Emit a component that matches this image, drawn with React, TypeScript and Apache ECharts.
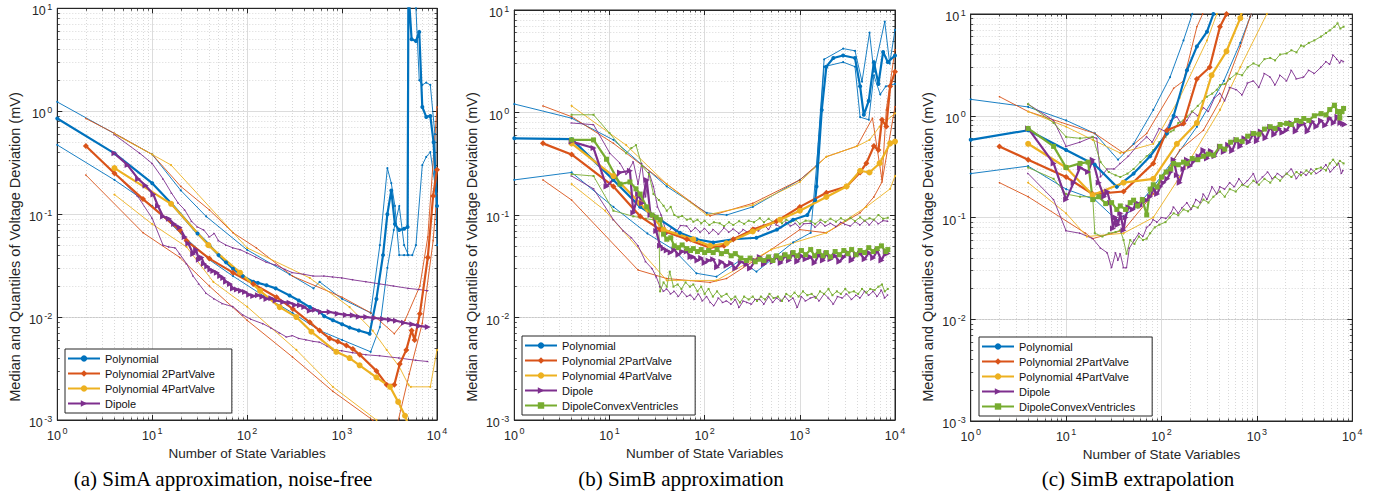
import React, { useEffect, useRef } from "react";
import * as echarts from "echarts";

type P = [number, number][];

// ---------- labels ----------
const METHODS = ["Polynomial", "Polynomial 2PartValve", "Polynomial 4PartValve", "Dipole", "DipoleConvexVentricles"];
const X_NAME = "Number of State Variables";
const Y_NAME = "Median and Quantiles of Voltage Deviation (mV)";
const CAPTIONS = ["(a) SimA approximation, noise-free", "(b) SimB approximation", "(c) SimB extrapolation"];
const X_MINOR = [2, 3, 4, 5, 6, 7, 8, 9, 20, 30, 40, 50, 60, 70, 80, 90, 200, 300, 400, 500, 600, 700, 800, 900, 2000, 3000, 4000, 5000, 6000, 7000, 8000, 9000];
const Y_MINOR = [0.002, 0.003, 0.004, 0.005, 0.006, 0.007, 0.008, 0.009, 0.02, 0.03, 0.04, 0.05, 0.06, 0.07, 0.08, 0.09, 0.2, 0.3, 0.4, 0.5, 0.6, 0.7, 0.8, 0.9, 2, 3, 4, 5, 6, 7, 8, 9];

// ---------- panel (a) ----------
const A_POLY_MED: P = [[1,0.85],[4,0.39],[10,0.2],[16,0.126],[30,0.065],[40,0.05],[50,0.04],[60,0.034],[71,0.0295],[90,0.025],[116,0.022],[130,0.0215],[160,0.0204],[200,0.019],[280,0.0162],[350,0.0145],[457,0.0125],[580,0.0112],[650,0.0102],[800,0.0093],[1000,0.0085],[1200,0.0079],[1500,0.0074],[1950,0.0069],[2300,0.015],[2700,0.04],[3000,0.1],[3300,0.17],[3600,0.08],[4000,0.07],[4500,0.072],[4900,0.075],[5000,15],[5400,5.0],[6000,4.8],[6500,5.9],[7000,1.1],[7700,0.88],[8500,0.9],[9200,0.5],[10000,0.12]];
const A_POLY_HI: P = [[1,1.23],[10,0.38],[20,0.17],[37,0.095],[100,0.045],[280,0.026],[500,0.019],[580,0.022],[1000,0.015],[2000,0.011],[2500,0.05],[3000,0.28],[3300,0.2],[3600,0.12],[4000,0.04],[4500,0.04],[4900,0.04],[5000,15],[6000,10],[6500,2.0],[7000,1.8],[7700,1.9],[8500,1.8],[9500,0.6],[10000,0.05]];
const A_POLY_LO: P = [[1,0.47],[4,0.215],[10,0.12],[20,0.065],[40,0.036],[71,0.025],[150,0.016],[300,0.011],[580,0.0074],[1000,0.006],[2000,0.0046],[2500,0.008],[3000,0.03],[3500,0.07],[4000,0.12],[4500,0.05],[5000,0.04],[5500,0.04],[6000,0.05],[7000,0.3],[7700,0.36],[8500,0.4],[9500,0.2]];
const A_P2_MED: P = [[2,0.46],[4,0.25],[8,0.14],[19.5,0.07],[23,0.055],[40,0.037],[71,0.027],[116,0.021],[204,0.0156],[303,0.012],[457,0.0089],[580,0.0074],[740,0.0062],[900,0.0058],[1110,0.0053],[1300,0.0049],[1540,0.0043],[2300,0.003],[2950,0.0022],[3550,0.0022],[4050,0.0035],[4750,0.0048],[5400,0.0074],[5800,0.006],[6600,0.0108],[8000,0.038],[9100,0.15],[10000,0.27]];
const A_P2_HI: P = [[2,0.85],[4,0.61],[10,0.38],[20,0.186],[40,0.11],[71,0.066],[125,0.047],[300,0.025],[1000,0.0156],[2000,0.011],[3550,0.0069],[4600,0.0093],[6600,0.02],[8000,0.06],[10000,1.1]];
const A_P2_LO: P = [[2,0.24],[8,0.066],[19.5,0.038],[40,0.02],[100,0.0093],[300,0.0041],[800,0.0019],[2100,0.001],[3000,0.0006],[3700,0.0008],[5100,0.0028],[7000,0.0087],[9100,0.055],[10000,0.16]];
const A_P4_MED: P = [[4,0.28],[15.8,0.126],[39,0.05],[84,0.027],[137,0.018],[220,0.0125],[330,0.01],[475,0.0072],[870,0.0046],[1200,0.004],[1530,0.0034],[2300,0.0026],[3200,0.0021],[3900,0.0015],[4600,0.0011],[5200,0.0008]];
const A_P4_HI: P = [[4,0.6],[10,0.38],[15.8,0.3],[100,0.047],[457,0.024],[1200,0.0125],[2100,0.0074],[2950,0.0048],[4000,0.0033],[5000,0.0022],[5300,0.0021],[8500,0.0021],[10000,0.0048]];
const A_P4_LO: P = [[4,0.155],[10,0.08],[23,0.048],[44,0.022],[100,0.0126],[330,0.0048],[800,0.0021],[2300,0.001],[3000,0.0007]];
const A_DIP_MED: P = [[4,0.39],[5.5,0.3],[7.1,0.22],[8.5,0.19],[10.3,0.155],[11.5,0.12],[13,0.095],[15,0.09],[17,0.08],[19.5,0.074],[22,0.06],[24,0.052],[27,0.041],[29,0.045],[31,0.036],[33,0.038],[35,0.033],[38,0.031],[41,0.029],[44,0.028],[48,0.027],[52,0.025],[56,0.024],[60,0.022],[66,0.021],[71,0.019],[78,0.0185],[86,0.018],[95,0.0175],[105,0.0165],[116,0.016],[130,0.0163],[145,0.0158],[160,0.015],[180,0.0152],[200,0.0145],[240,0.014],[280,0.0138],[320,0.0131],[360,0.013],[400,0.0125],[457,0.0115],[520,0.0118],[600,0.0112],[740,0.0112],[900,0.0108],[1100,0.0105],[1300,0.0104],[1500,0.0101],[1800,0.01],[2200,0.0098],[2700,0.0096],[3200,0.0094],[3700,0.0092],[4500,0.0088],[5500,0.0085],[6500,0.0082],[8000,0.008]];
const A_DIP_HI: P = [[4,0.59],[7.4,0.39],[10,0.31],[13,0.22],[16,0.16],[18.8,0.128],[22,0.11],[26,0.085],[30,0.075],[35,0.07],[40,0.06],[45,0.065],[50,0.055],[60,0.05],[71,0.047],[85,0.045],[100,0.042],[125,0.038],[160,0.034],[200,0.032],[250,0.029],[300,0.027],[400,0.026],[500,0.025],[650,0.025],[800,0.0245],[1000,0.024],[1300,0.023],[1800,0.022],[2500,0.021],[3500,0.02],[5000,0.019],[6500,0.0185],[8000,0.018]];
const A_DIP_LO: P = [[4,0.25],[7,0.15],[10,0.091],[13,0.05],[15,0.048],[17.5,0.047],[19.5,0.041],[23,0.033],[27,0.025],[31,0.021],[37,0.017],[45,0.015],[55,0.0135],[71,0.0126],[90,0.0105],[110,0.0095],[147,0.0086],[180,0.0078],[220,0.007],[260,0.0064],[300,0.0066],[350,0.0062],[420,0.006],[500,0.0058],[580,0.0057],[700,0.0052],[800,0.0048],[1000,0.0047],[1300,0.0045],[1800,0.0043],[2500,0.0042],[4000,0.004],[6000,0.0038],[8000,0.0037]];

// ---------- panel (b) ----------
const B_POLY_MED: P = [[1,0.56],[4,0.55],[11,0.22],[21,0.12],[34,0.09],[55,0.067],[82,0.058],[123,0.054],[200,0.058],[350,0.06],[575,0.072],[850,0.09],[1200,0.1],[1450,0.14],[1500,0.19],[1700,1.06],[1900,2.8],[2250,3.4],[2850,3.6],[3800,3.4],[4300,1.8],[4700,0.95],[5300,1.3],[6000,3.1],[6700,1.9],[7500,3.9],[8400,3.1],[10000,3.6]];
const B_POLY_HI: P = [[1,1.21],[4,0.88],[11,0.54],[40,0.19],[105,0.105],[170,0.1],[320,0.12],[1000,0.22],[1500,0.3],[1800,3.3],[2850,4.2],[3800,4.0],[4500,2.0],[5400,6.0],[6000,2.5],[7800,7.7],[8800,3.0],[10000,6.4]];
const B_POLY_LO: P = [[1,0.22],[4,0.26],[11,0.12],[25,0.066],[47,0.046],[82,0.027],[133,0.025],[234,0.036],[350,0.028],[850,0.054],[1300,0.067],[1500,0.3],[1800,2.8],[2850,3.1],[3800,2.8],[4300,0.9],[5300,0.85],[6000,2.3],[7000,1.5],[8000,1.8],[10000,1.9]];
const B_P2_MED: P = [[2,0.5],[4,0.39],[11,0.19],[21,0.097],[34,0.072],[65,0.058],[114,0.048],[160,0.05],[200,0.058],[320,0.072],[570,0.087],[1000,0.12],[1900,0.165],[3100,0.19],[4300,0.26],[5000,0.32],[6000,0.47],[6700,0.43],[7300,0.85],[8100,0.73],[8900,1.8],[10000,2.5]];
const B_P2_HI: P = [[2,1.16],[4,0.91],[11,0.5],[40,0.2],[114,0.098],[320,0.13],[1000,0.22],[1900,0.37],[4000,0.47],[5800,0.88],[7300,0.22],[8100,1.06],[10000,4.1]];
const B_P2_LO: P = [[2,0.22],[4,0.14],[20,0.029],[40,0.024],[114,0.022],[170,0.024],[500,0.046],[1000,0.072],[1900,0.067],[4300,0.105],[6000,0.15],[7300,0.21],[10000,1.14]];
const B_P4_MED: P = [[4,0.5],[11,0.24],[21,0.13],[37,0.072],[76,0.058],[114,0.05],[170,0.053],[320,0.069],[620,0.09],[1000,0.11],[1900,0.15],[3100,0.19],[4300,0.27],[5400,0.26],[6900,0.32],[8900,0.5],[10000,0.52]];
const B_P4_HI: P = [[4,1.16],[15,0.48],[40,0.2],[105,0.1],[320,0.125],[1000,0.21],[1900,0.37],[4000,0.47],[5400,0.54],[6900,0.73],[10000,0.98]];
const B_P4_LO: P = [[4,0.2],[9,0.11],[40,0.023],[133,0.023],[500,0.046],[1900,0.067],[5000,0.12],[8900,0.18],[10000,0.24]];
const B_DIP_MED: P = [[4,0.52],[6.8,0.45],[9.3,0.19],[12.9,0.26],[16.4,0.27],[17.8,0.105],[20,0.16],[22,0.13],[24.6,0.22],[27,0.1],[29,0.1],[31,0.07],[34,0.05],[37,0.047],[40,0.045],[44,0.043],[48,0.046],[53,0.041],[58,0.044],[65,0.044],[71,0.039],[76,0.039],[84,0.036],[92,0.038],[100,0.034],[110,0.036],[123,0.037],[135,0.031],[150,0.035],[170,0.032],[190,0.034],[210,0.03],[240,0.035],[275,0.033],[300,0.03],[340,0.036],[380,0.039],[420,0.033],[470,0.037],[520,0.035],[570,0.039],[630,0.034],[700,0.04],[770,0.036],[850,0.042],[940,0.035],[1040,0.04],[1150,0.037],[1300,0.039],[1430,0.034],[1580,0.041],[1750,0.036],[1900,0.042],[2100,0.037],[2350,0.04],[2600,0.035],[2900,0.039],[3200,0.043],[3500,0.036],[3900,0.041],[4300,0.042],[4800,0.037],[5300,0.043],[5900,0.038],[6500,0.045],[7200,0.036],[8000,0.044],[8400,0.042]];
const B_DIP_HI: P = [[4,0.79],[6.8,0.76],[10.1,0.4],[12.9,0.32],[15,0.25],[17.8,0.33],[20,0.2],[21.8,0.32],[24,0.15],[26,0.26],[29,0.19],[32,0.12],[35,0.1],[40,0.065],[45,0.075],[50,0.068],[56,0.079],[65,0.078],[72,0.069],[80,0.075],[90,0.068],[100,0.074],[112,0.066],[123,0.072],[140,0.065],[160,0.075],[180,0.068],[200,0.073],[230,0.066],[255,0.072],[290,0.067],[330,0.075],[370,0.07],[420,0.08],[470,0.072],[520,0.085],[570,0.08],[640,0.075],[720,0.085],[800,0.078],[900,0.083],[1000,0.075],[1100,0.082],[1300,0.083],[1450,0.076],[1650,0.085],[1850,0.078],[2100,0.083],[2400,0.077],[2700,0.085],[3000,0.081],[3400,0.078],[3800,0.086],[4300,0.08],[4800,0.088],[5400,0.08],[6000,0.09],[6700,0.082],[7500,0.088],[8400,0.087]];
const B_DIP_LO: P = [[4,0.24],[6.8,0.18],[11,0.09],[14,0.07],[17,0.06],[20,0.05],[24,0.035],[28,0.03],[31,0.025],[34,0.02],[37,0.018],[40,0.019],[44,0.017],[48,0.018],[53,0.016],[58,0.018],[65,0.016],[71,0.0166],[78,0.015],[86,0.017],[95,0.0145],[105,0.016],[115,0.014],[125,0.013],[140,0.0155],[155,0.014],[170,0.0145],[190,0.0135],[210,0.015],[230,0.0125],[255,0.0145],[280,0.014],[310,0.0135],[340,0.015],[380,0.015],[420,0.0135],[470,0.016],[520,0.014],[570,0.0155],[630,0.0145],[700,0.016],[770,0.0145],[850,0.0155],[940,0.0125],[1040,0.016],[1150,0.0145],[1300,0.0155],[1450,0.016],[1600,0.0145],[1800,0.017],[2000,0.0155],[2250,0.0135],[2500,0.016],[2800,0.0155],[3100,0.017],[3500,0.015],[3900,0.0165],[4300,0.0155],[4800,0.018],[5300,0.0165],[5900,0.018],[6500,0.016],[7200,0.0185],[7800,0.0155],[8400,0.0166]];
const B_DCV_MED: P = [[4,0.54],[6.8,0.54],[9.3,0.35],[12.9,0.2],[16.4,0.21],[19,0.18],[21,0.16],[24.6,0.12],[28,0.1],[31,0.095],[34,0.09],[37,0.065],[40,0.058],[44,0.06],[48,0.05],[53,0.048],[58,0.051],[65,0.047],[71,0.045],[76,0.047],[84,0.044],[92,0.046],[100,0.043],[110,0.045],[123,0.043],[135,0.046],[150,0.042],[170,0.044],[190,0.04],[210,0.042],[240,0.038],[275,0.036],[300,0.038],[340,0.035],[380,0.037],[420,0.036],[470,0.039],[520,0.036],[570,0.04],[630,0.038],[700,0.041],[770,0.039],[850,0.043],[940,0.04],[1040,0.045],[1150,0.041],[1300,0.046],[1430,0.04],[1580,0.044],[1750,0.04],[1900,0.043],[2100,0.039],[2350,0.044],[2600,0.041],[2900,0.045],[3200,0.042],[3500,0.046],[3900,0.041],[4300,0.045],[4800,0.043],[5300,0.048],[5900,0.044],[6500,0.047],[7200,0.05],[8000,0.044],[8400,0.046]];
const B_DCV_HI: P = [[4,0.95],[6.8,0.95],[10,0.63],[15,0.4],[17,0.45],[19,0.48],[22,0.3],[26,0.25],[29,0.16],[33,0.14],[37,0.123],[40,0.11],[44,0.12],[48,0.1],[53,0.095],[58,0.098],[65,0.09],[71,0.092],[76,0.086],[84,0.09],[92,0.083],[100,0.088],[112,0.08],[125,0.085],[144,0.083],[160,0.078],[180,0.085],[200,0.08],[230,0.087],[260,0.082],[290,0.088],[330,0.085],[380,0.093],[420,0.085],[470,0.092],[520,0.086],[580,0.09],[650,0.083],[720,0.09],[800,0.085],[900,0.09],[1000,0.082],[1150,0.088],[1300,0.087],[1450,0.082],[1650,0.09],[1850,0.085],[2100,0.092],[2400,0.086],[2700,0.093],[3000,0.088],[3400,0.094],[3800,0.087],[4300,0.095],[4800,0.088],[5400,0.093],[6000,0.09],[6700,0.1],[7500,0.092],[8400,0.094]];
const B_DCV_LO: P = [[4,0.25],[6.8,0.24],[11,0.11],[17.8,0.097],[24,0.092],[29,0.09],[33,0.09],[34,0.018],[37,0.022],[40,0.02],[43,0.028],[47,0.02],[52,0.021],[57,0.019],[63,0.022],[70,0.02],[76,0.021],[84,0.018],[92,0.02],[100,0.017],[110,0.019],[122,0.016],[135,0.018],[150,0.016],[170,0.017],[190,0.015],[210,0.016],[235,0.014],[260,0.016],[290,0.015],[320,0.016],[355,0.0145],[390,0.016],[430,0.015],[480,0.017],[530,0.0155],[590,0.016],[650,0.0145],[720,0.017],[800,0.016],[880,0.0175],[970,0.016],[1080,0.018],[1200,0.0165],[1330,0.017],[1470,0.0155],[1630,0.018],[1800,0.017],[2000,0.019],[2200,0.0165],[2450,0.018],[2700,0.017],[3000,0.019],[3300,0.0175],[3700,0.018],[4100,0.017],[4500,0.019],[5000,0.0175],[5500,0.019],[6100,0.0185],[6700,0.02],[7300,0.021],[7800,0.018],[8400,0.019]];

// ---------- panel (c) ----------
const C_POLY_MED: P = [[1,0.58],[4,0.72],[10,0.46],[20,0.33],[34,0.2],[51,0.27],[76,0.4],[114,0.67],[134,1.0],[185,2.8],[235,4.8],[300,6.7],[350,10],[400,14]];
const C_POLY_HI: P = [[1,1.45],[4,1.22],[10,0.9],[20,0.67],[35,0.37],[51,0.53],[82,1.14],[123,2.4],[170,5.5],[210,10],[250,15]];
const C_POLY_LO: P = [[1,0.27],[4,0.32],[10,0.19],[20,0.15],[34,0.094],[55,0.127],[82,0.2],[134,0.37],[235,0.78],[450,2.2],[670,5.2],[850,9.4],[1000,14]];
const C_P2_MED: P = [[2,0.5],[4,0.37],[10,0.25],[19,0.17],[40,0.18],[82,0.34],[114,0.72],[170,0.84],[235,2.3],[320,3.0],[410,7.5],[480,10],[550,14]];
const C_P2_HI: P = [[2,1.54],[4,1.1],[20,0.67],[40,0.43],[70,0.67],[134,1.86],[170,2.2],[235,7.5],[270,10],[300,14]];
const C_P2_LO: P = [[2,0.22],[4,0.16],[16,0.07],[19,0.062],[40,0.075],[82,0.17],[155,0.46],[275,0.72],[410,1.4],[670,4.8],[850,9.4],[1000,14]];
const C_P4_MED: P = [[4,0.53],[10,0.31],[19,0.166],[40,0.22],[82,0.24],[145,0.53],[235,0.85],[335,2.5],[480,4.3],[670,9.1],[750,14]];
const C_P4_HI: P = [[4,1.1],[10,0.78],[19,0.58],[37,0.43],[82,0.53],[155,1.5],[300,5.5],[380,10],[420,14]];
const C_P4_LO: P = [[4,0.22],[10,0.11],[16.5,0.065],[40,0.07],[82,0.1],[155,0.25],[410,1.14],[670,3.0],[1270,10],[1400,14]];
const C_DIP_MED: P = [[4,0.75],[7.4,0.34],[10,0.15],[12,0.22],[14,0.31],[17,0.28],[19,0.37],[22,0.22],[25,0.16],[27,0.18],[29,0.14],[31,0.078],[33,0.1],[35,0.085],[37,0.11],[40,0.075],[42,0.1],[45,0.126],[50,0.12],[55,0.14],[60,0.13],[65,0.15],[70,0.148],[76,0.16],[83,0.19],[90,0.17],[97,0.2],[105,0.22],[115,0.24],[125,0.28],[134,0.37],[145,0.26],[155,0.22],[170,0.3],[185,0.37],[200,0.32],[220,0.36],[245,0.4],[275,0.46],[300,0.38],[330,0.45],[360,0.4],[410,0.5],[450,0.44],[500,0.52],[550,0.45],[610,0.58],[670,0.5],[740,0.6],[820,0.55],[920,0.67],[1000,0.56],[1100,0.7],[1230,0.6],[1380,0.78],[1520,0.65],[1700,0.75],[1850,0.68],[2050,0.72],[2300,0.85],[2550,0.7],[2800,0.8],[3100,0.84],[3400,0.7],[3800,0.88],[4200,0.78],[4700,0.9],[5200,0.8],[5800,0.95],[6400,0.85],[7000,0.98],[7500,0.85],[8000,0.84],[8300,0.82]];
const C_DIP_HI: P = [[4,1.3],[7.4,0.9],[10,0.5],[14,0.55],[19,0.62],[21,0.6],[23,0.25],[27,0.3],[32,0.3],[37,0.34],[45,0.4],[55,0.5],[70,0.62],[80,0.55],[95,0.75],[110,0.7],[125,0.9],[145,0.98],[165,0.8],[185,0.9],[210,1.1],[240,1.0],[275,1.2],[310,1.1],[360,1.5],[410,1.66],[460,1.4],[520,1.9],[610,1.8],[700,1.6],[800,2.1],[920,2.2],[1050,1.9],[1200,2.6],[1380,2.4],[1550,2.0],[1750,2.5],[2050,2.2],[2300,2.8],[2600,2.3],[3100,2.4],[3500,2.8],[4000,2.6],[4700,3.0],[5300,3.4],[5800,3.2],[6300,3.95],[6900,3.6],[7400,3.3],[7700,3.5],[8100,3.4]];
const C_DIP_LO: P = [[4,0.27],[7.4,0.15],[10,0.074],[14,0.07],[19,0.062],[23,0.05],[27,0.045],[30,0.032],[33,0.045],[35,0.038],[37,0.044],[40,0.032],[43,0.032],[46,0.05],[52,0.06],[58,0.07],[64,0.065],[70,0.08],[76,0.085],[82,0.095],[90,0.09],[100,0.1],[112,0.098],[125,0.11],[134,0.127],[150,0.11],[165,0.125],[185,0.14],[205,0.12],[230,0.15],[255,0.14],[275,0.17],[300,0.15],[340,0.2],[380,0.17],[410,0.2],[460,0.19],[520,0.22],[580,0.2],[650,0.24],[720,0.21],[800,0.23],[920,0.27],[1000,0.22],[1150,0.25],[1300,0.28],[1450,0.24],[1650,0.27],[1850,0.25],[2050,0.27],[2300,0.3],[2600,0.24],[2900,0.28],[3300,0.26],[3700,0.3],[4200,0.27],[4700,0.29],[5300,0.33],[5900,0.28],[6500,0.31],[7200,0.34],[7700,0.27],[8000,0.29]];
const C_DCV_MED: P = [[4,0.75],[7.4,0.5],[10,0.31],[14,0.34],[17,0.35],[19,0.15],[22,0.16],[26,0.137],[30,0.14],[34,0.12],[37,0.13],[42,0.12],[47,0.14],[51,0.148],[56,0.13],[63,0.15],[70,0.106],[76,0.19],[82,0.21],[90,0.2],[100,0.25],[112,0.28],[125,0.3],[134,0.34],[150,0.33],[170,0.35],[185,0.34],[210,0.38],[240,0.37],[275,0.4],[310,0.42],[350,0.41],[410,0.5],[460,0.47],[530,0.55],[610,0.58],[700,0.56],[800,0.63],[920,0.67],[1050,0.66],[1200,0.74],[1380,0.78],[1550,0.75],[1750,0.82],[2050,0.84],[2300,0.82],[2600,0.9],[2900,0.88],[3100,0.94],[3500,0.9],[4000,1.0],[4700,1.05],[5300,1.02],[5800,1.15],[6500,1.27],[7000,1.1],[7400,0.95],[7800,1.1],[8100,1.18]];
const C_DCV_HI: P = [[4,1.3],[7.4,0.85],[10,0.62],[14,0.6],[19,0.62],[23,0.35],[28,0.28],[33,0.26],[37,0.25],[44,0.27],[51,0.3],[60,0.35],[70,0.4],[82,0.46],[95,0.55],[110,0.62],[125,0.7],[134,0.72],[150,0.85],[170,0.9],[185,0.98],[210,1.1],[240,1.25],[270,1.4],[300,1.54],[340,1.65],[380,1.8],[410,2.0],[460,2.05],[520,2.3],[610,2.6],[700,2.5],[800,3.0],[920,3.27],[1050,3.1],[1200,3.6],[1380,3.7],[1550,3.5],[1750,4.0],[2050,4.1],[2300,4.4],[2600,4.2],[2900,4.9],[3100,4.8],[3500,5.2],[4000,5.5],[4700,6.0],[5300,6.5],[5800,6.9],[6500,7.5],[7000,8.1],[7500,7.2],[8100,7.5]];
const C_DCV_LO: P = [[4,0.31],[7.4,0.24],[10,0.17],[14,0.16],[19,0.16],[20,0.07],[24,0.065],[28,0.07],[33,0.072],[37,0.075],[40,0.06],[43,0.044],[47,0.06],[52,0.055],[58,0.065],[64,0.06],[70,0.062],[76,0.07],[85,0.08],[95,0.085],[110,0.09],[122,0.1],[134,0.11],[150,0.105],[170,0.12],[190,0.115],[215,0.13],[240,0.125],[275,0.15],[310,0.14],[350,0.16],[410,0.18],[460,0.16],[520,0.19],[600,0.18],[700,0.21],[800,0.2],[920,0.23],[1050,0.21],[1200,0.24],[1380,0.22],[1550,0.25],[1750,0.23],[2050,0.27],[2300,0.25],[2600,0.28],[2900,0.26],[3300,0.29],[3700,0.27],[4200,0.3],[4700,0.31],[5300,0.29],[5800,0.34],[6300,0.37],[6900,0.33],[7400,0.36],[8100,0.34]];

const PANELS = [
  [[A_POLY_MED, A_POLY_HI, A_POLY_LO], [A_P2_MED, A_P2_HI, A_P2_LO], [A_P4_MED, A_P4_HI, A_P4_LO], [A_DIP_MED, A_DIP_HI, A_DIP_LO]],
  [[B_POLY_MED, B_POLY_HI, B_POLY_LO], [B_P2_MED, B_P2_HI, B_P2_LO], [B_P4_MED, B_P4_HI, B_P4_LO], [B_DIP_MED, B_DIP_HI, B_DIP_LO], [B_DCV_MED, B_DCV_HI, B_DCV_LO]],
  [[C_POLY_MED, C_POLY_HI, C_POLY_LO], [C_P2_MED, C_P2_HI, C_P2_LO], [C_P4_MED, C_P4_HI, C_P4_LO], [C_DIP_MED, C_DIP_HI, C_DIP_LO], [C_DCV_MED, C_DCV_HI, C_DCV_LO]],
];

// ---------- styles ----------
const COLORS = ["#0072BD", "#D95319", "#EDB120", "#7E2F8E", "#77AC30"];
const SYMBOLS = ["circle", "diamond", "circle", "triangle", "rect"];
const SYM_SIZE = [4, 6, 6, 6, 5];
const SYM_ROT = [0, 0, 0, -90, 0];
const FONT = "'Liberation Sans', Arial, Helvetica, sans-serif";
const INK = "#262626";
const GRIDS = [
  { left: 57.3, top: 8.3, width: 379.7, height: 411.7 },
  { left: 514.3, top: 10, width: 380.7, height: 410 },
  { left: 970.7, top: 14, width: 381.6, height: 407 },
];
const LEGEND_POS = [
  { left: 65, top: 349 },
  { left: 522, top: 336 },
  { left: 979, top: 337 },
];
const YLABEL_X = [15, 472, 928];
const CAPTION_X = [223, 681, 1138];

const tickFmt = (v: number) => {
  const e = Math.round(Math.log10(v));
  return `{b|10}{s|${e}}`;
};
const RICH = {
  b: { fontSize: 12.5, fontFamily: FONT, color: INK, padding: [6, 0, 0, 0] },
  s: { fontSize: 9, fontFamily: FONT, color: INK, padding: [0, 0, 3, 1.5] },
};

const minorTick = { show: true, splitNumber: 9, length: 2.5, lineStyle: { color: INK, width: 0.8 } };

export default function App() {
  const ref = useRef<HTMLDivElement>(null);
  useEffect(() => {
    if (!ref.current) return;
    const chart = echarts.init(ref.current, undefined, { renderer: "svg" });
    const series: any[] = [];
    PANELS.forEach((panel, gi) => {
      series.push({
        type: "line",
        xAxisIndex: gi,
        yAxisIndex: gi,
        data: [[1, 0.001]],
        symbol: "none",
        lineStyle: { opacity: 0 },
        silent: true,
        z: 0,
        markLine: {
          silent: true,
          z: 0,
          symbol: ["none", "none"],
          label: { show: false },
          lineStyle: { color: "#c8c8c8", type: [1, 2], width: 0.7 },
          emphasis: { disabled: true },
          data: [...X_MINOR.map((v) => ({ xAxis: v })), ...Y_MINOR.map((v) => ({ yAxis: v }))],
        },
      });
      panel.forEach((triple, mi) => {
        const [med, hi, lo] = triple;
        const color = COLORS[mi];
        [hi, lo].forEach((q, qi) => {
          series.push({
            type: "line",
            name: METHODS[mi] + (qi === 0 ? " upper" : " lower"),
            xAxisIndex: gi,
            yAxisIndex: gi,
            data: q,
            symbol: SYMBOLS[mi],
            symbolSize: 2,
            symbolRotate: SYM_ROT[mi],
            lineStyle: { color, width: 0.9 },
            itemStyle: { color },
            emphasis: { disabled: true },
            z: 2,
          });
        });
        series.push({
          type: "line",
          name: METHODS[mi],
          xAxisIndex: gi,
          yAxisIndex: gi,
          data: med,
          symbol: SYMBOLS[mi],
          symbolSize: SYM_SIZE[mi],
          symbolRotate: SYM_ROT[mi],
          lineStyle: { color, width: 2.2 },
          itemStyle: { color },
          emphasis: { disabled: true },
          z: 3,
        });
      });
    });

    const mainX = GRIDS.map((_, i) => ({
      type: "log",
      logBase: 10,
      min: 1,
      max: 10000,
      gridIndex: i,
      position: "bottom",
      name: X_NAME,
      nameLocation: "middle",
      nameGap: 24,
      nameTextStyle: { fontSize: 13.5, color: INK, fontFamily: FONT },
      axisLine: { show: true, onZero: false, lineStyle: { color: INK, width: 1 } },
      axisTick: { show: true, inside: true, length: 5, lineStyle: { color: INK } },
      minorTick: { ...minorTick },
      axisLabel: { formatter: tickFmt, rich: RICH, margin: 3, color: INK, fontSize: 12.5 },
      splitLine: { show: true, lineStyle: { color: "#dcdcdc", width: 1 } },
    }));
    const topX = GRIDS.map((_, i) => ({
      type: "log",
      logBase: 10,
      min: 1,
      max: 10000,
      gridIndex: i,
      position: "top",
      axisLine: { show: true, onZero: false, lineStyle: { color: INK, width: 1 } },
      axisTick: { show: true, inside: true, length: 5, lineStyle: { color: INK } },
      minorTick: { ...minorTick },
      axisLabel: { show: false },
      splitLine: { show: false },
    }));
    const mainY = GRIDS.map((_, i) => ({
      type: "log",
      logBase: 10,
      min: 0.001,
      max: 10,
      gridIndex: i,
      position: "left",
      axisLine: { show: true, onZero: false, lineStyle: { color: INK, width: 1 } },
      axisTick: { show: true, inside: true, length: 5, lineStyle: { color: INK } },
      minorTick: { ...minorTick },
      axisLabel: { formatter: tickFmt, rich: RICH, margin: 5, color: INK, fontSize: 12.5 },
      splitLine: { show: true, lineStyle: { color: "#dcdcdc", width: 1 } },
    }));
    const rightY = GRIDS.map((_, i) => ({
      type: "log",
      logBase: 10,
      min: 0.001,
      max: 10,
      gridIndex: i,
      position: "right",
      axisLine: { show: true, onZero: false, lineStyle: { color: INK, width: 1 } },
      axisTick: { show: true, inside: true, length: 5, lineStyle: { color: INK } },
      minorTick: { ...minorTick },
      axisLabel: { show: false },
      splitLine: { show: false },
    }));

    const option: any = {
      animation: false,
      backgroundColor: "#ffffff",
      grid: GRIDS.map((g) => ({ ...g, show: true, borderColor: INK, borderWidth: 1, backgroundColor: "transparent", containLabel: false })),
      xAxis: [...mainX, ...topX],
      yAxis: [...mainY, ...rightY],
      legend: LEGEND_POS.map((p, i) => ({
        ...p,
        orient: "vertical",
        data: i === 0 ? METHODS.slice(0, 4) : METHODS,
        backgroundColor: "#ffffff",
        borderColor: INK,
        borderWidth: 1,
        borderRadius: 0,
        padding: [4, 17, 4, 2],
        itemGap: 4,
        itemWidth: 32,
        itemHeight: 8,
        selectedMode: false,
        textStyle: { fontSize: 11, fontFamily: FONT, color: "#111111" },
      })),
      graphic: [
        ...YLABEL_X.map((x) => ({
          type: "text",
          x,
          y: 247,
          rotation: Math.PI / 2,
          silent: true,
          style: { text: Y_NAME, fontSize: 14.5, fontFamily: FONT, fill: INK, align: "center", verticalAlign: "middle", textAlign: "center", textVerticalAlign: "middle" },
        })),
        ...CAPTION_X.map((x, i) => ({
          type: "text",
          x,
          y: 479,
          silent: true,
          style: { text: CAPTIONS[i], fontSize: 21, fontFamily: "'Liberation Serif', 'Times New Roman', serif", fill: "#000000", align: "center", verticalAlign: "middle", textAlign: "center", textVerticalAlign: "middle" },
        })),
      ],
      series,
    };
    chart.setOption(option);
    return () => chart.dispose();
  }, []);
  return <div ref={ref} style={{ position: "fixed", left: 0, top: 0, width: 1385, height: 493 }} />;
}
